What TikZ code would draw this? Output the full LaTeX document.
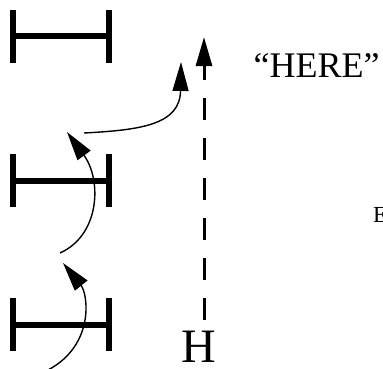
\documentclass[tikz,border=0pt]{standalone}
\usepackage{fontspec}
\setmainfont{Liberation Serif}
\usetikzlibrary{arrows.meta}
\tikzset{
  beam/.style={line width=6pt, line cap=butt},
  bigtip/.style={-{Triangle[length=29pt,width=16pt]}},
  curvearrow/.style={bigtip, line width=1.4pt},
  dasharrow/.style={bigtip, line width=3pt, dash pattern=on 22pt off 18pt},
  lbl/.style={inner sep=0pt, anchor=base west}
}
\begin{document}
\begin{tikzpicture}[x=1pt,y=-1pt]
\useasboundingbox (0,0) rectangle (383,368);
% I-beams
\foreach \n/\yc in {top/36, mid/180.5, bot/324.5}{
  \coordinate (\n L) at (13,\yc);
  \coordinate (\n R) at (109,\yc);
  \draw[beam] (13,\yc-26.5) -- (13,\yc+26.5);
  \draw[beam] (109,\yc-26.5) -- (109,\yc+26.5);
  \draw[beam] (\n L) -- (\n R);
}
% curved arrows
\coordinate (a1s) at (48,370);
\coordinate (a1t) at (63,263);
\coordinate (a2s) at (60,253);
\coordinate (a2t) at (67,132);
\coordinate (a3s) at (84,133);
\coordinate (a3t) at (181,62);
\draw[curvearrow] (a1s) .. controls (95,345) and (88,294) .. (a1t);
\draw[curvearrow] (a2s) .. controls (100,235) and (102,180) .. (a2t);
\draw[curvearrow] (a3s) .. controls (140,130) and (180,125) .. (a3t);
% dashed arrow
\coordinate (ds) at (204,320);
\coordinate (dt) at (204,37);
\draw[dasharrow] (ds) -- (dt);
% labels
\node[inner sep=0pt, anchor=base, font=\fontsize{48}{48}\selectfont] (H) at (199,362) {H};
\node[lbl, font=\fontsize{36}{36}\selectfont] (here) at (253.5,77) {“HERE”};
\node[lbl, font=\fontsize{23}{23}\selectfont] (E) at (373,222) {E};
\end{tikzpicture}
\end{document}
